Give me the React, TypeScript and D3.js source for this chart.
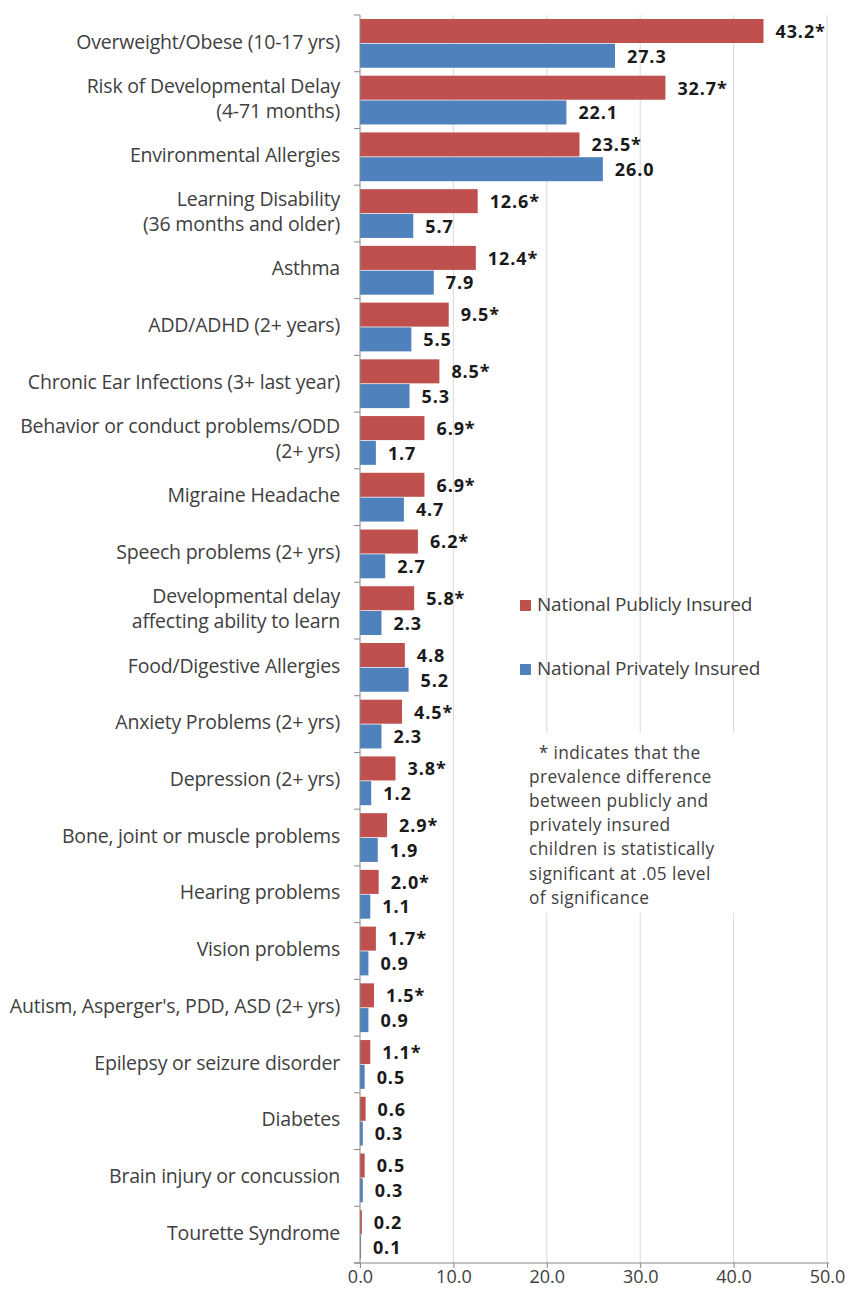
import React, { useEffect, useRef } from 'react'
import * as d3 from 'd3'

const categories = [
  ['Overweight/Obese (10-17 yrs)'],
  ['Risk of Developmental Delay', '(4-71 months)'],
  ['Environmental Allergies'],
  ['Learning Disability', '(36 months and older)'],
  ['Asthma'],
  ['ADD/ADHD (2+ years)'],
  ['Chronic Ear Infections (3+ last year)'],
  ['Behavior or conduct problems/ODD', '(2+ yrs)'],
  ['Migraine Headache'],
  ['Speech problems (2+ yrs)'],
  ['Developmental delay', 'affecting ability to learn'],
  ['Food/Digestive Allergies'],
  ['Anxiety Problems (2+ yrs)'],
  ['Depression (2+ yrs)'],
  ['Bone, joint or muscle problems'],
  ['Hearing problems'],
  ['Vision problems'],
  ["Autism, Asperger's, PDD, ASD (2+ yrs)"],
  ['Epilepsy or seizure disorder'],
  ['Diabetes'],
  ['Brain injury or concussion'],
  ['Tourette Syndrome'],
]

const publicValues = [43.2, 32.7, 23.5, 12.6, 12.4, 9.5, 8.5, 6.9, 6.9, 6.2, 5.8, 4.8, 4.5, 3.8, 2.9, 2.0, 1.7, 1.5, 1.1, 0.6, 0.5, 0.2]
const privateValues = [27.3, 22.1, 26.0, 5.7, 7.9, 5.5, 5.3, 1.7, 4.7, 2.7, 2.3, 5.2, 2.3, 1.2, 1.9, 1.1, 0.9, 0.9, 0.5, 0.3, 0.3, 0.1]
const significant = [true, true, true, true, true, true, true, true, true, true, true, false, true, true, true, true, true, true, true, false, false, false]

const seriesNames = ['National Publicly Insured', 'National Privately Insured']
const colors = ['#c0504d', '#4f81bd']
const xTicks = [0, 10, 20, 30, 40, 50]

const noteLines = [
  '  * indicates that the',
  'prevalence difference',
  'between publicly and',
  'privately insured',
  'children is statistically',
  'significant at .05 level',
  'of significance',
]

const W = 850
const H = 1292
const margin = { top: 15, right: 23, bottom: 29, left: 360 }
const font = '"Open Sans", sans-serif'

export default function App() {
  const ref = useRef<SVGSVGElement>(null)

  useEffect(() => {
    const svg = d3.select(ref.current)
    svg.selectAll('*').remove()

    const graphWidth = W - margin.left - margin.right
    const graphHeight = H - margin.top - margin.bottom

    const g = svg.append('g').attr('transform', `translate(${margin.left}, ${margin.top})`)

    const x = d3.scaleLinear().domain([0, 50]).range([0, graphWidth])
    const y = d3.scaleBand<number>()
      .domain(d3.range(categories.length))
      .range([0, graphHeight])
      .paddingInner(0.14)
      .paddingOuter(0.07)
    const sub = d3.scaleBand<number>().domain([0, 1]).range([0, y.bandwidth()]).paddingInner(0.03)
    const step = y.step()

    // gridlines
    g.append('g')
      .selectAll('line')
      .data(xTicks.slice(1))
      .join('line')
      .attr('x1', d => x(d))
      .attr('x2', d => x(d))
      .attr('y1', 0)
      .attr('y2', graphHeight)
      .attr('stroke', '#d9d9d9')
      .attr('stroke-width', 1)

    // white box behind the note
    g.append('rect')
      .attr('x', 515 - margin.left)
      .attr('y', 733 - margin.top)
      .attr('width', 230)
      .attr('height', 180)
      .attr('fill', '#fff')

    // bars
    const rows = categories.map((c, i) => ({ i, vals: [publicValues[i], privateValues[i]] }))
    const row = g.selectAll('g.row')
      .data(rows)
      .join('g')
      .attr('class', 'row')
      .attr('transform', d => `translate(0, ${y(d.i)})`)

    row.selectAll('rect')
      .data(d => d.vals.map((v, k) => ({ v, k })))
      .join('rect')
      .attr('x', 0)
      .attr('y', d => sub(d.k)!)
      .attr('width', d => x(d.v))
      .attr('height', sub.bandwidth())
      .attr('fill', d => colors[d.k])

    row.selectAll('text')
      .data(d => d.vals.map((v, k) => ({ v, k, star: k === 0 && significant[d.i] })))
      .join('text')
      .attr('x', d => x(d.v) + 12)
      .attr('y', d => sub(d.k)! + sub.bandwidth() / 2 + 2)
      .attr('dominant-baseline', 'middle')
      .attr('font-family', font)
      .attr('font-weight', 700)
      .attr('font-size', 18)
      .attr('letter-spacing', 0.9)
      .attr('fill', '#1a1a1a')
      .text(d => d.v.toFixed(1) + (d.star ? '*' : ''))

    // y axis
    const yAxis = g.append('g')
    yAxis.append('line')
      .attr('x1', 0).attr('x2', 0).attr('y1', 0).attr('y2', graphHeight)
      .attr('stroke', '#888')
    yAxis.selectAll('line.tick')
      .data(d3.range(categories.length + 1))
      .join('line')
      .attr('class', 'tick')
      .attr('x1', -6).attr('x2', 0)
      .attr('y1', d => d * step)
      .attr('y2', d => d * step)
      .attr('stroke', '#888')

    yAxis.selectAll('text')
      .data(categories)
      .join('text')
      .attr('text-anchor', 'end')
      .attr('font-family', font)
      .attr('font-size', 19.5)
      .attr('letter-spacing', -0.2)
      .attr('fill', '#404040')
      .attr('transform', (d, i) => `translate(-20, ${(i + 0.5) * step})`)
      .each(function (d) {
        const t = d3.select(this)
        d.forEach((line, j) => {
          t.append('tspan')
            .attr('x', 0)
            .attr('y', (j - (d.length - 1) / 2) * 25)
            .attr('dominant-baseline', 'middle')
            .text(line)
        })
      })

    // x axis
    const xAxis = d3.axisBottom(x)
      .tickValues(xTicks)
      .tickFormat(d3.format('.1f'))
      .tickSize(5)
      .tickSizeOuter(0)
    const xg = g.append('g')
      .attr('transform', `translate(0, ${graphHeight})`)
      .call(xAxis)
    xg.select('.domain').attr('stroke', '#888').attr('d', `M-6,0H${graphWidth + 2}`)
    xg.selectAll('.tick line').attr('stroke', '#888')
    xg.selectAll('.tick text')
      .attr('font-family', font)
      .attr('font-size', 18)
      .attr('fill', '#404040')
      .attr('dy', '0.8em')
      .attr('y', 6)

    // legend
    const legend = svg.append('g')
    seriesNames.forEach((name, k) => {
      const ly = 606 + k * 64
      legend.append('rect')
        .attr('x', 520).attr('y', ly - 6).attr('width', 11).attr('height', 11)
        .attr('fill', colors[k])
      legend.append('text')
        .attr('x', 537).attr('y', ly)
        .attr('dominant-baseline', 'middle')
        .attr('font-family', font)
        .attr('font-size', 19)
        .attr('letter-spacing', -0.2)
        .attr('fill', '#404040')
        .text(name)
    })

    // note
    svg.append('g')
      .selectAll('text')
      .data(noteLines)
      .join('text')
      .attr('x', 529)
      .attr('y', (d, i) => 754 + i * 24.2)
      .attr('dominant-baseline', 'middle')
      .attr('font-family', font)
      .attr('font-size', 17.3)
      .attr('letter-spacing', 0.4)
      .attr('fill', '#404040')
      .attr('xml:space', 'preserve')
      .style('white-space', 'pre')
      .text(d => d)
  }, [])

  return (
    <svg ref={ref} width={W} height={H} style={{ display: 'block', position: 'absolute', left: 0, top: 0, background: '#fff' }} />
  )
}
